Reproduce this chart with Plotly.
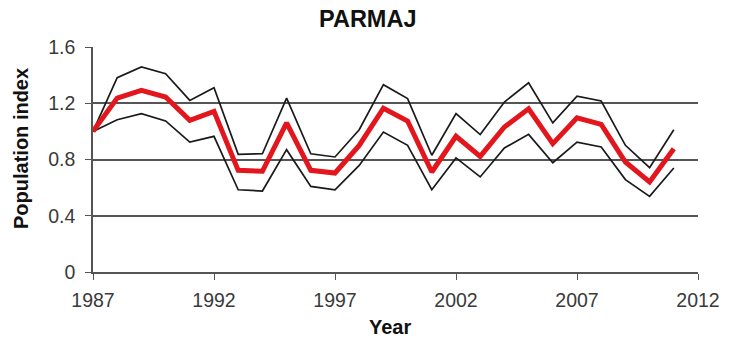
import plotly.graph_objects as go

years = list(range(1987, 2012))
index_mean = [1.00, 1.237, 1.292, 1.244, 1.078, 1.142, 0.723, 0.716, 1.060, 0.723,
              0.704, 0.900, 1.165, 1.074, 0.711, 0.965, 0.822, 1.031, 1.161, 0.913,
              1.097, 1.050, 0.782, 0.640, 0.877]
index_upper = [1.00, 1.382, 1.458, 1.410, 1.220, 1.311, 0.837, 0.841, 1.237, 0.841,
               0.818, 1.012, 1.332, 1.233, 0.830, 1.126, 0.977, 1.209, 1.346, 1.060,
               1.251, 1.216, 0.901, 0.742, 1.012]
index_lower = [1.00, 1.083, 1.126, 1.074, 0.924, 0.965, 0.585, 0.576, 0.870, 0.609,
               0.585, 0.758, 0.995, 0.901, 0.585, 0.811, 0.676, 0.882, 0.979, 0.777,
               0.924, 0.889, 0.657, 0.538, 0.740]
x_ticks = [1987, 1992, 1997, 2002, 2007, 2012]
y_ticks = [0, 0.4, 0.8, 1.2, 1.6]

FONT = "Liberation Sans, Arial, sans-serif"
AXIS_GREY = "#555555"

# plot area in pixels
L, R, T, B = 93, 698, 47, 272

fig = go.Figure()
for band in (index_upper, index_lower):
    fig.add_trace(go.Scatter(x=years, y=band, mode="lines",
                             line=dict(color="#1a1a1a", width=1.7), hoverinfo="skip"))
fig.add_trace(go.Scatter(x=years, y=index_mean, mode="lines",
                         line=dict(color="#e3161d", width=5)))


def label(text, px, py, size, angle=0):
    # place a text label by its pixel centre on the page
    return dict(text=text, xref="paper", yref="paper", x=0, y=0,
                xshift=px - L, yshift=B - py, xanchor="center", yanchor="middle",
                showarrow=False, textangle=angle,
                font=dict(family=FONT, size=size, color="#111111"))


fig.update_layout(
    width=733, height=343,
    margin=dict(l=L, r=733 - R, t=T, b=343 - B),
    paper_bgcolor="white", plot_bgcolor="white",
    showlegend=False,
    annotations=[
        label("<b>PARMAJ</b>", 368, 18.6, 23.5),
        label("<b>Year</b>", 389.5, 327.4, 20),
        label("<b>Population index</b>", 21, 149, 20, angle=-90),
    ],
    xaxis=dict(
        range=[1987, 2012], tickvals=x_ticks, ticktext=[str(v) for v in x_ticks],
        showgrid=False, zeroline=False,
        showline=True, linecolor=AXIS_GREY, linewidth=1.5,
        ticks="outside", ticklen=6, tickcolor=AXIS_GREY, tickwidth=1.3,
        ticklabelstandoff=4,
        tickfont=dict(family=FONT, size=19.5, color="#3a3a3a"),
    ),
    yaxis=dict(
        range=[0, 1.6], tickvals=y_ticks, ticktext=["0", "0.4", "0.8", "1.2", "1.6"],
        showgrid=True, gridcolor=AXIS_GREY, gridwidth=1.5, zeroline=False,
        showline=True, linecolor=AXIS_GREY, linewidth=1.5,
        ticks="outside", ticklen=6, tickcolor=AXIS_GREY, tickwidth=1.3,
        ticklabelstandoff=6,
        tickfont=dict(family=FONT, size=19.5, color="#3a3a3a"),
    ),
)

fig.write_html("out.html")
